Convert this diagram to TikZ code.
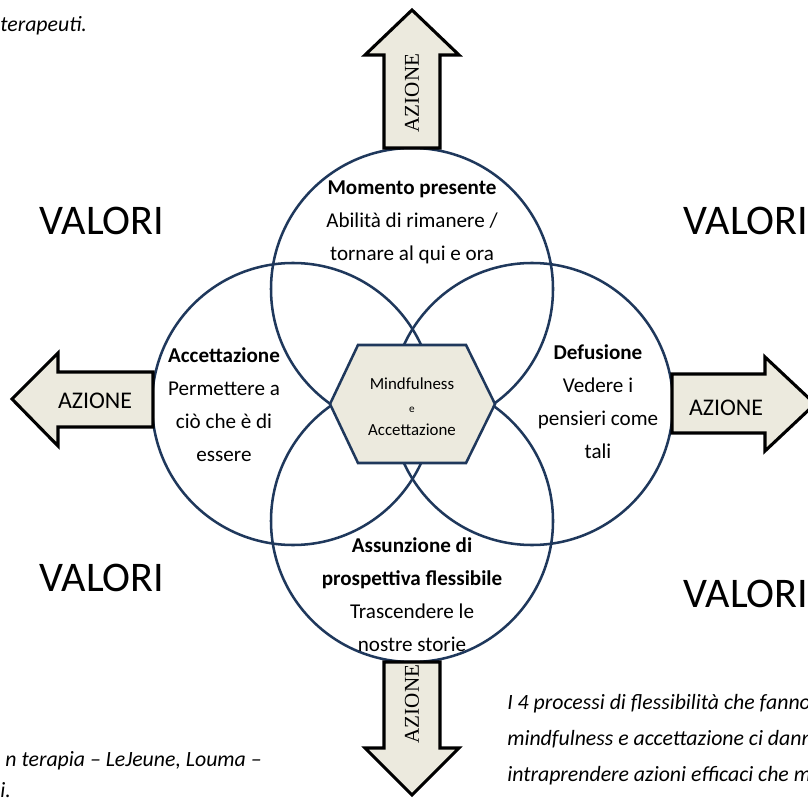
\documentclass[tikz,border=0pt]{standalone}
\usepackage{fontspec}
\setmainfont{Carlito}
\newfontfamily\azserif{Liberation Serif}
\usepackage{xcolor}
\usepackage{tikz}
\usetikzlibrary{positioning}

\definecolor{ringblue}{RGB}{31,56,92}
\definecolor{boxbeige}{RGB}{236,234,222}

\begin{document}
\begin{tikzpicture}[x=0.025cm,y=-0.025cm,
  ring/.style={draw=ringblue,line width=1.8pt},
  bigarrow/.style={draw=black,fill=boxbeige,line width=2.2pt,line join=miter},
  hexbox/.style={draw=ringblue,fill=boxbeige,line width=1.8pt,line join=miter},
  lbl/.style={align=center,inner sep=0pt,font=\fontsize{15}{23.4}\selectfont},
  azlbl/.style={inner sep=0pt,font=\fontsize{17}{20}\selectfont},
  azvert/.style={inner sep=0pt,rotate=90,font=\azserif\fontsize{15}{18}\selectfont},
  valori/.style={inner sep=0pt,font=\fontsize{30}{36}\selectfont},
  prose/.style={inner sep=0pt,align=left,font=\itshape\fontsize{15.5}{25.5}\selectfont}]
  \useasboundingbox (0,0) rectangle (808,800);
  \clip (0,0) rectangle (808,800);

  % the four processes
  \coordinate (cTop) at (412,289);
  \coordinate (cBot) at (412,521);
  \coordinate (cLeft) at (293,404);
  \coordinate (cRight) at (532,404);
  \foreach \c in {cTop,cBot,cLeft,cRight}
    \draw[ring] (\c) circle[radius=141];

  \draw[hexbox] (330,404) -- (358,345) -- (466,345) -- (495,404) -- (466,463) -- (358,463) -- cycle;
  \node[lbl,font=\fontsize{12}{18.4}\selectfont] (mfc) at (412,407)
    {Mindfulness\\[-2pt]{\fontsize{8}{8}\selectfont e}\\[-2pt]Accettazione};

  \node[lbl] (present) at (412,222) {\textbf{Momento presente}\\Abilità di rimanere /\\tornare al qui e ora};
  \node[lbl] (accept) at (224,405) {\textbf{Accettazione}\\Permettere a\\ciò che è di\\essere};
  \node[lbl] (defus) at (598,402) {\textbf{Defusione}\\Vedere i\\pensieri come\\tali};
  \node[lbl] (persp) at (412,595) {\textbf{Assunzione di}\\\textbf{prospettiva flessibile}\\Trascendere le\\nostre storie};

  % azione arrows
  \draw[bigarrow] (412,10) -- (459,55) -- (440,55) -- (440,148) -- (384,148) -- (384,55) -- (365,55) -- cycle;
  \draw[bigarrow] (12,399) -- (58,353) -- (58,372) -- (153,372) -- (153,427) -- (58,427) -- (58,446) -- cycle;
  \draw[bigarrow] (815,404) -- (765,357) -- (765,374) -- (672,374) -- (672,433) -- (765,433) -- (765,451) -- cycle;
  \draw[bigarrow] (412,795) -- (459,748) -- (440,748) -- (440,662) -- (384,662) -- (384,748) -- (365,748) -- cycle;
  \node[azvert] (azTop) at (412,93) {AZIONE};
  \node[azlbl] (azLeft) at (95,401) {AZIONE};
  \node[azlbl] (azRight) at (726,408) {AZIONE};
  \node[azvert] (azBot) at (412,704) {AZIONE};

  \node[valori] (valTL) at (102,221) {VALORI};
  \node[valori] (valTR) at (746,221) {VALORI};
  \node[valori] (valBL) at (102,578) {VALORI};
  \node[valori] (valBR) at (746,594) {VALORI};

  % page text around the figure
  \node[prose,anchor=base west] (txtTop) at (0,32) {terapeuti.};
  \node[prose,anchor=base east] (txtBL) at (262,766) {n terapia -- LeJeune, Louma --};
  \node[prose,anchor=base west] (txtBL2) at (0,797) {i.};
  \node[prose,anchor=north west] (txtBR) at (507,694)
    {I 4 processi di flessibilità che fanno\\mindfulness e accettazione ci danno\\intraprendere azioni efficaci che mi};
\end{tikzpicture}
\end{document}
